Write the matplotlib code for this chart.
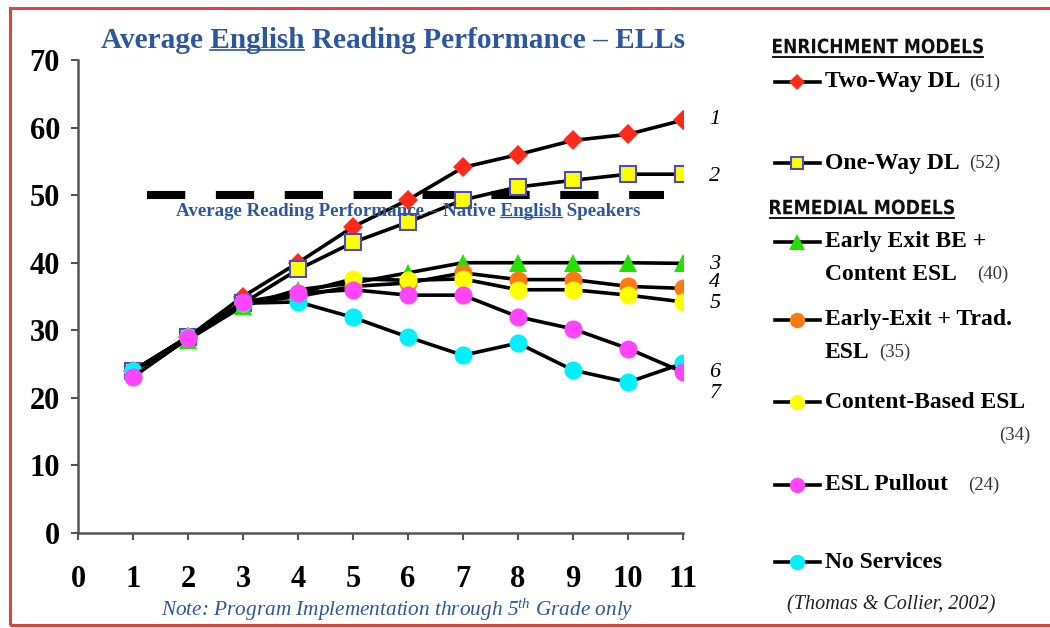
import matplotlib
matplotlib.use("Agg")
import matplotlib.pyplot as plt
from matplotlib.lines import Line2D
from matplotlib.patches import Rectangle, PathPatch
from matplotlib.textpath import TextPath
from matplotlib.font_manager import FontProperties
from matplotlib.transforms import Affine2D

plt.rcParams["mathtext.fontset"] = "custom"
plt.rcParams["mathtext.it"] = "Liberation Serif:italic"
plt.rcParams["mathtext.rm"] = "Liberation Serif"

# ---- data ----
grades = [1, 2, 3, 4, 5, 6, 7, 8, 9, 10, 11]
two_way = [24, 29, 35, 40, 45.3, 49.3, 54.1, 56, 58.1, 59, 61.1]
one_way = [24, 29, 34, 39, 43, 46, 49.3, 51.2, 52.2, 53.1, 53.1]
early_exit_be = [24, 28.6, 33.6, 36, 37, 38.5, 40, 40, 40, 40, 39.9]
early_exit_trad = [24, 29, 34, 35, 36.5, 37, 38.5, 37.5, 37.5, 36.5, 36.2]
content_esl = [24, 29, 34, 35.5, 37.6, 37.4, 37.6, 36, 36, 35.2, 34.2]
esl_pullout = [23.1, 28.8, 34.2, 35.5, 36, 35.2, 35.2, 32, 30.2, 27.3, 23.8]
no_services = [24, 29, 34, 34.2, 31.9, 29, 26.3, 28.1, 24.1, 22.3, 25.1]
native_avg = 50
native_span = (1.26, 10.65)

series_names = ["Two-Way DL", "One-Way DL", "Early Exit BE +\nContent ESL",
                "Early-Exit + Trad.\nESL", "Content-Based ESL", "ESL Pullout",
                "No Services"]
series_counts = ["(61)", "(52)", "(40)", "(35)", "(34)", "(24)", ""]
rank_labels = ["1", "2", "3", "4", "5", "6", "7"]
rank_y = [61.2, 52.7, 39.8, 37.1, 33.9, 23.8, 20.7]

styles = [
    dict(marker="D", ms=10, mfc="#ff2a1a", mec="#ff2a1a", mew=0),
    dict(marker="s", ms=11, mfc="#ffff00", mec="#4a4ac8", mew=1.5),
    dict(marker="^", ms=13, mfc="#22e000", mec="#22e000", mew=0),
    dict(marker="o", ms=13, mfc="#ff7a10", mec="#ff7a10", mew=0),
    dict(marker="o", ms=13, mfc="#ffff00", mec="#ffff00", mew=0),
    dict(marker="o", ms=13, mfc="#ff44ff", mec="#ff44ff", mew=0),
    dict(marker="o", ms=13, mfc="#00f0ff", mec="#00f0ff", mew=0),
]
all_series = [two_way, one_way, early_exit_be, early_exit_trad, content_esl,
              esl_pullout, no_services]
# pink drawn last: it sits on top of the others at grades 1-3
draw_order = [0, 1, 2, 3, 4, 6, 5]

BLUE = "#2b579f"
SERIF = "Liberation Serif"
W, H = 1050, 628

fig = plt.figure(figsize=(W / 100, H / 100), dpi=100)
fig.patch.set_facecolor("white")
fig.add_artist(Rectangle((10 / W, 1 - 625 / H), 1.2, (625 - 8) / H,
                         transform=fig.transFigure, fill=False,
                         ec="#d8463c", lw=2.2))

ax = fig.add_axes([78 / W, 1 - 533 / H, (683 - 78) / W, (533 - 60) / H])
ax.set_xlim(0, 11)
ax.set_ylim(0, 70)
ax.set_xticks(range(0, 12))
ax.set_yticks(range(0, 71, 10))
for s in ["top", "right"]:
    ax.spines[s].set_visible(False)
for s in ["left", "bottom"]:
    ax.spines[s].set_color("#555555")
    ax.spines[s].set_linewidth(1.8)
ax.tick_params(axis="both", colors="#555555", width=1.5, length=5,
               labelcolor="black")
ax.tick_params(axis="x", pad=18)
ax.tick_params(axis="y", pad=8)
for lab in ax.get_xticklabels() + ax.get_yticklabels():
    lab.set_fontfamily(SERIF)
    lab.set_fontweight("bold")
    lab.set_fontsize(22)

# native speakers reference line
ax.hlines(native_avg, *native_span, colors="black", lw=5.8,
          linestyles=(0, (4.75, 3.8)), zorder=1)

for i in draw_order:
    ax.plot(grades, all_series[i], color="black", lw=2.6, zorder=3, **styles[i])

for lab, y in zip(rank_labels, rank_y):
    ax.text(11.58, y, lab, fontfamily=SERIF, style="italic", fontsize=16,
            ha="center", va="center", clip_on=False)

fig.canvas.draw()
renderer = fig.canvas.get_renderer()


def text_w(s, **kw):
    t = fig.text(0, 0, s, **kw)
    w = t.get_window_extent(renderer).width
    t.remove()
    return w


def fit_size(s, width, **kw):
    # font size that makes the string about `width` pixels wide
    return 20 * width / text_w(s, fontsize=20, **kw)


def underlined(x, y, s, word, color, width, lw=1.2, uoff=3, **kw):
    kw["fontsize"] = fit_size(s, width, **kw)
    t = fig.text(x / W, 1 - y / H, s, color=color, ha="center", va="center", **kw)
    bb = t.get_window_extent(renderer)
    pre = s[:s.index(word)] + word
    x1 = bb.x0 + text_w(pre, **kw)
    x0 = x1 - text_w(word, **kw)
    yy = bb.y0 + uoff
    fig.add_artist(Line2D([x0 / W, x1 / W], [yy / H, yy / H], color=color,
                          lw=lw, transform=fig.transFigure))
    return t


underlined(393, 40, "Average English Reading Performance \u2013 ELLs", "English",
           BLUE, 584, lw=1.2, uoff=4, fontfamily=SERIF, fontweight="bold")

lbl = underlined(408, 212, "Average Reading Performance \u2013 Native English Speakers",
                 "English", BLUE, 465, lw=0.9, uoff=3, fontfamily=SERIF,
                 fontweight="bold")
lbl.set_zorder(2)

note = r"Note: Program Implementation through 5$^{th}$ Grade only"
fig.text(397 / W, 1 - 610 / H, note, color=BLUE, fontfamily=SERIF, style="italic",
         fontsize=fit_size(note, 472, fontfamily=SERIF, style="italic"),
         ha="center", va="center")


# ---- legend (manual layout) ----
def heading(txt, x0, yc, wpx, cap=15):
    # condensed heavy caps: text path squeezed to the wanted width / cap height
    tp = TextPath((0, 0), txt, size=20,
                  prop=FontProperties(family="DejaVu Sans", weight="bold"))
    ext = tp.get_extents()
    sx, sy = wpx / ext.width, cap / ext.height
    yb = H - yc - cap / 2
    tr = Affine2D().translate(-ext.x0, -ext.y0).scale(sx, sy).translate(x0, yb)
    fig.add_artist(PathPatch(tp, transform=tr, fc="#111111", ec="none"))
    fig.add_artist(Line2D([x0 / W, (x0 + wpx) / W], [(yb - 3) / H] * 2,
                          color="black", lw=1.3, transform=fig.transFigure))


heading("ENRICHMENT MODELS", 773, 46, 210)
heading("REMEDIAL MODELS", 770, 207, 184)

entry_y = [82, 163, 242, 320, 402, 485, 562]
for name, cnt, st, y in zip(series_names, series_counts, styles, entry_y):
    yf = 1 - y / H
    fig.add_artist(Line2D([775 / W, 820 / W], [yf, yf], color="black", lw=2.6,
                          transform=fig.transFigure))
    kst = dict(st)
    kst["ms"] = st["ms"] * 0.85
    fig.add_artist(Line2D([797 / W], [yf], transform=fig.transFigure,
                          ls="none", **kst))
    lines = name.split("\n")
    for i, ln in enumerate(lines):
        yy = y + i * 32
        t = fig.text(825 / W, 1 - yy / H, ln, fontfamily=SERIF, fontweight="bold",
                     fontsize=17, ha="left", va="center")
    if cnt:
        if name == "Content-Based ESL":
            fig.text(1030 / W, 1 - (y + 33) / H, cnt, fontfamily=SERIF,
                     fontsize=13.5, color="#333344", ha="right", va="center")
        else:
            bb = t.get_window_extent(renderer)
            gap = 20 if name in ("ESL Pullout", "Early Exit BE +\nContent ESL") else 9
            fig.text((bb.x1 + gap) / W, 1 - (y + (len(lines) - 1) * 32) / H, cnt,
                     fontfamily=SERIF, fontsize=13.5, color="#333344",
                     ha="left", va="center")

cite = "(Thomas & Collier, 2002)"
fig.text(891 / W, 1 - 605 / H, cite, fontfamily=SERIF, style="italic",
         fontsize=fit_size(cite, 208, fontfamily=SERIF, style="italic"),
         color="#222222", ha="center", va="center")

fig.savefig("out.png", dpi=100)
